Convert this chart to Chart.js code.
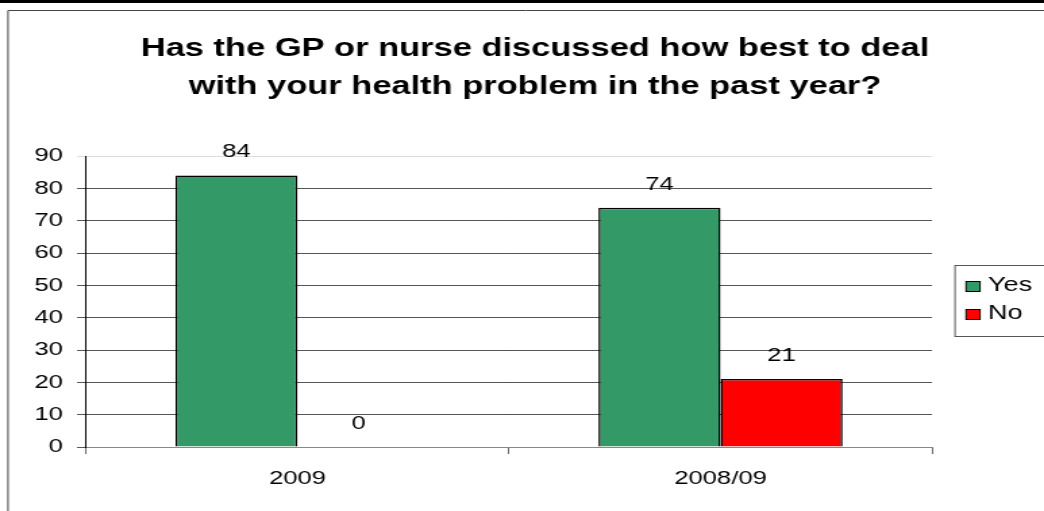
<!DOCTYPE html>
<html>
<head>
<meta charset="utf-8">
<script src="https://cdn.jsdelivr.net/npm/chart.js@4"></script>
<style>
  body { margin: 0; background: #fff; overflow: hidden; }
  /* the reference is stretched sideways, so draw narrower and stretch */
  #wrap { width: 773px; height: 511px; position: relative; transform: scaleX(1.3506); transform-origin: 0 0; }
</style>
</head>
<body>
<div id="wrap"><canvas id="chart"></canvas></div>
<script>
// chart data
const categories = ['2009', '2008/09'];
const yesValues = [84, 74];
const noValues = [0, 21];
const yTicks = [0, 10, 20, 30, 40, 50, 60, 70, 80, 90];
const titleLines = ['Has the GP or nurse discussed how best to deal', 'with your health problem in the past year?'];

const FONT = '"Liberation Sans", Arial, sans-serif';
const W = 773;
const S = 1044 / W;   // horizontal stretch
const sx = x => x / S;

// frame, title, value labels and legend box
const decorPlugin = {
    id: 'decor',
    afterDraw(chart) {
        const ctx = chart.ctx;
        ctx.save();
        // outer frame
        ctx.fillStyle = '#000';
        ctx.fillRect(0, 0, W, 3);
        ctx.strokeStyle = '#444';
        ctx.lineWidth = 1;
        ctx.beginPath();
        ctx.moveTo(sx(8), 511);
        ctx.lineTo(sx(8), 10.5);
        ctx.lineTo(W, 10.5);
        ctx.stroke();

        // title
        ctx.fillStyle = '#000';
        ctx.font = 'bold 25.5px ' + FONT;
        ctx.textAlign = 'center';
        ctx.textBaseline = 'alphabetic';
        ctx.fillText(titleLines[0], sx(535), 56);
        ctx.fillText(titleLines[1], sx(535), 94);

        // value labels above bars
        ctx.font = '19px ' + FONT;
        chart.data.datasets.forEach((ds, i) => {
            chart.getDatasetMeta(i).data.forEach((bar, j) => {
                ctx.fillText(String(ds.data[j]), bar.x, bar.y - 18);
            });
        });

        // legend
        ctx.strokeStyle = '#555';
        ctx.strokeRect(sx(955), 265.5, 100, 71);
        ctx.textAlign = 'left';
        ctx.font = '20px ' + FONT;
        chart.data.datasets.forEach((ds, i) => {
            const top = 281 + i * 28;
            ctx.fillStyle = ds.backgroundColor;
            ctx.fillRect(sx(966), top, sx(14), 11);
            ctx.strokeStyle = '#000';
            ctx.strokeRect(sx(966), top + 0.5, sx(14), 10);
            ctx.fillStyle = '#000';
            ctx.fillText(ds.label, sx(988), top + 10);
        });
        ctx.restore();
    }
};

const ctx = document.getElementById('chart').getContext('2d');
new Chart(ctx, {
    type: 'bar',
    data: {
        labels: categories,
        datasets: [
            {
                label: 'Yes',
                data: yesValues,
                backgroundColor: '#339966',
                borderColor: '#000',
                borderWidth: 1.5,
                categoryPercentage: 0.577,
                barPercentage: 1
            },
            {
                label: 'No',
                data: noValues,
                backgroundColor: '#ff0000',
                borderColor: '#000',
                borderWidth: 1.5,
                categoryPercentage: 0.577,
                barPercentage: 1
            }
        ]
    },
    options: {
        responsive: true,
        maintainAspectRatio: false,
        animation: false,
        layout: { padding: { left: 0, right: W - sx(932), top: 156, bottom: 0 } },
        plugins: {
            legend: { display: false },
            title: { display: false },
            tooltip: { enabled: false }
        },
        scales: {
            x: {
                afterFit: function(scale) { scale.height = 64; },
                grid: {
                    offset: true,
                    drawOnChartArea: false,
                    color: '#666',
                    tickLength: 7
                },
                border: { color: '#888' },
                ticks: {
                    color: '#000',
                    padding: 13,
                    font: { family: FONT, size: 19 }
                }
            },
            y: {
                min: 0,
                max: 90,
                afterFit: function(scale) { scale.width = sx(86); },
                afterBuildTicks: function(scale) {
                    scale.ticks = yTicks.map(v => ({ value: v }));
                },
                grid: {
                    color: function(context) {
                        if (context.tick && context.tick.value === 90) {
                            return '#ddd';
                        }
                        return '#555';
                    },
                    tickLength: sx(9)
                },
                border: { color: '#000' },
                ticks: {
                    color: '#000',
                    padding: 10.4,
                    font: { family: FONT, size: 19 }
                }
            }
        }
    },
    plugins: [decorPlugin]
});
</script>
</body>
</html>
